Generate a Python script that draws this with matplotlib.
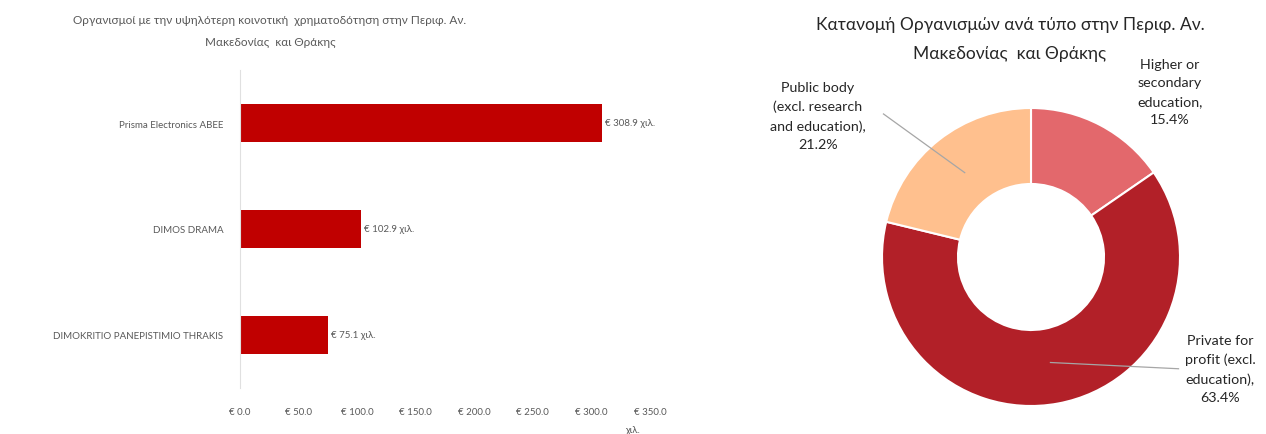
import numpy as np
import matplotlib
matplotlib.use("Agg")
import matplotlib.pyplot as plt

# bar chart data
orgs = ["Prisma Electronics ABEE", "DIMOS DRAMA", "DIMOKRITIO PANEPISTIMIO THRAKIS"]
funding = [308.9, 102.9, 75.1]
x_ticks = [0, 50, 100, 150, 200, 250, 300, 350]

# donut data (clockwise from top)
org_types = ["Higher or\nsecondary\neducation,", "Private for\nprofit (excl.\neducation),",
             "Public body\n(excl. research\nand education),"]
shares = [15.4, 63.4, 21.2]
donut_colors = ["#E3686C", "#B22028", "#FFC08E"]

plt.rcParams["font.family"] = ["Lato", "DejaVu Sans"]
grey = "#595959"

fig = plt.figure(figsize=(12.66, 4.35), dpi=100)

# ---- left: horizontal bars
ax = fig.add_axes([240 / 1266, 46 / 435, 410 / 1266, 318 / 435])
ypos = np.arange(len(orgs))
ax.barh(ypos, funding, height=0.36, color="#C00000")
ax.set_ylim(len(orgs) - 0.5, -0.5)
ax.set_xlim(0, 350)
ax.set_yticks(ypos)
ax.set_yticklabels(orgs, fontsize=7, color=grey)
ax.set_xticks(x_ticks)
ax.set_xticklabels([f"€ {v:.1f}" for v in x_ticks], fontsize=7, color=grey)
ax.tick_params(length=0, axis="y", pad=12)
ax.tick_params(length=0, axis="x", pad=14)
for s in ["top", "right", "bottom"]:
    ax.spines[s].set_visible(False)
ax.spines["left"].set_color("#E0E0E0")
for y, v in zip(ypos, funding):
    ax.text(v + 3, y, f"€ {v:.1f} χιλ.", va="center", ha="left", fontsize=7, color=grey)
fig.text(632 / 1266, 1 - 431 / 435, "χιλ.", fontsize=7, color=grey, ha="center", va="center")
fig.text(270 / 1266, 1 - 20 / 435, "Οργανισμοί με την υψηλότερη κοινοτική  χρηματοδότηση στην Περιφ. Αν.",
         fontsize=8.5, color=grey, ha="center", va="center")
fig.text(270 / 1266, 1 - 43 / 435, "Μακεδονίας  και Θράκης",
         fontsize=8.5, color=grey, ha="center", va="center")

# ---- right: donut
ax2 = fig.add_axes([882 / 1266, 28 / 435, 298 / 1266, 298 / 435])
wedges, _ = ax2.pie(shares, colors=donut_colors, startangle=90, counterclock=False,
                    radius=1, wedgeprops=dict(width=0.51, edgecolor="white", linewidth=1.5))
ax2.set_xlim(-1, 1)
ax2.set_ylim(-1, 1)
ax2.axis("off")

txt_kw = dict(fontsize=10.3, color="#262626", ha="center", va="center", linespacing=1.65)
labels = [f"{t}\n{s:.1f}%" for t, s in zip(org_types, shares)]
ax2.text(0.93, 1.11, labels[0], clip_on=False, **txt_kw)
ax2.text(1.27, -0.75, labels[1], clip_on=False, **txt_kw)
ax2.text(-1.43, 0.95, labels[2], clip_on=False, **txt_kw)

# leader lines for private and public wedges
for w, end in [(wedges[1], (0.99, -0.75)), (wedges[2], (-0.99, 0.96))]:
    ang = np.deg2rad((w.theta1 + w.theta2) / 2)
    ax2.plot([0.72 * np.cos(ang), end[0]], [0.72 * np.sin(ang), end[1]],
             color="#A6A6A6", lw=0.9, clip_on=False)

fig.text(1010 / 1266, 1 - 25 / 435, "Κατανομή Οργανισμών ανά τύπο στην Περιφ. Αν.",
         fontsize=12.5, color="#262626", ha="center", va="center")
fig.text(1010 / 1266, 1 - 54 / 435, "Μακεδονίας  και Θράκης",
         fontsize=12.5, color="#262626", ha="center", va="center")

fig.savefig("out.png", dpi=100, facecolor="white")
